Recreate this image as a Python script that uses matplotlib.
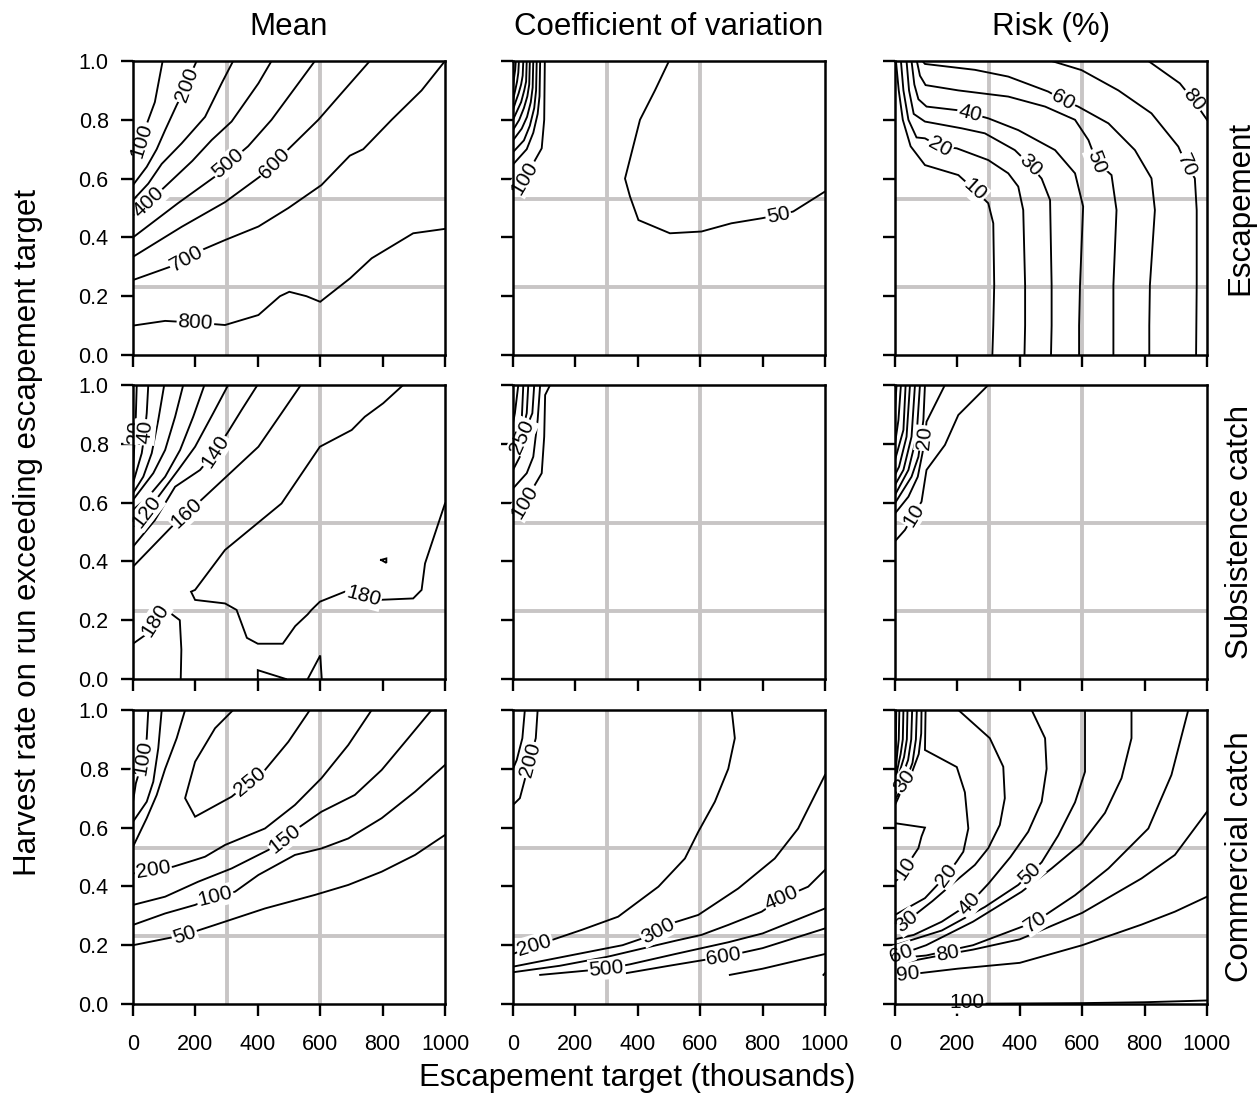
import numpy as np
import matplotlib
matplotlib.use("Agg")
import matplotlib.pyplot as plt

plt.rcParams['font.family'] = ['Liberation Sans', 'DejaVu Sans']

# ---------------- data (contour lines) ----------------
COL_TITLES = ["Mean", "Coefficient of variation", "Risk (%)"]
ROW_TITLES = ["Escapement", "Subsistence catch", "Commercial catch"]
X_TICKS = [0, 200, 400, 600, 800, 1000]
Y_TICKS = [0.0, 0.2, 0.4, 0.6, 0.8, 1.0]
REF_X = [300, 600]
REF_Y = [0.23, 0.53]

# Mean - Escapement
MEAN_ESC_LEVELS = [100, 200, 300, 400, 500, 600, 700, 800]
MEAN_ESC_X = [
    [95, 70, 47, 28, 0],
    [204, 185, 172, 140, 103, 76, 44, 0],
    [321, 284, 231, 156, 92, 49, 0],
    [444, 402, 316, 252, 190, 103, 50, 0],
    [583, 444, 369, 305, 263, 145, 0],
    [759, 668, 594, 498, 453, 407, 295, 156, 0],
    [1000, 925, 829, 738, 695, 604, 498, 402, 295, 220, 172, 119, 0],
    [0, 103, 200, 295, 402, 471, 501, 556, 600, 696, 765, 898, 1000],
]
MEAN_ESC_Y = [
    [1.0, 0.86, 0.794, 0.73, 0.68],
    [1.0, 0.955, 0.918, 0.85, 0.765, 0.70, 0.64, 0.578],
    [1.0, 0.924, 0.81, 0.72, 0.65, 0.583, 0.527],
    [1.0, 0.924, 0.794, 0.731, 0.66, 0.573, 0.52, 0.475],
    [1.0, 0.80, 0.71, 0.652, 0.607, 0.517, 0.40],
    [1.0, 0.89, 0.80, 0.70, 0.652, 0.607, 0.52, 0.436, 0.334],
    [1.0, 0.90, 0.80, 0.70, 0.678, 0.578, 0.50, 0.437, 0.391, 0.357, 0.329, 0.30, 0.255],
    [0.10, 0.116, 0.11, 0.102, 0.136, 0.20, 0.215, 0.20, 0.181, 0.261, 0.329, 0.414, 0.429],
]
MEAN_ESC_LAB = [(28, 0.73), (172, 0.918), None, (50, 0.52), (305, 0.652),
                (453, 0.652), (172, 0.329), (200, 0.11)]

# CV - Escapement
CV_ESC_LEVELS = [100, 150, 200, 250, 300, 350, 400, 450, 500, 50]
CV_ESC_X = [
    [102, 100, 92, 65, 38, 0],
    [87, 85, 79, 65, 44, 0],
    [76, 74, 68, 54, 35, 0],
    [65, 63, 57, 45, 28, 0],
    [54, 52, 46, 35, 20, 0],
    [44, 42, 36, 26, 13, 0],
    [33, 31, 26, 18, 8, 0],
    [19, 17, 13, 7, 0],
    [9, 7, 3, 0],
    [500, 455, 407, 359, 375, 402, 503, 604, 700, 797, 850, 898, 1000],
]
CV_ESC_Y = [
    [1.0, 0.80, 0.703, 0.652, 0.603, 0.55],
    [1.0, 0.88, 0.82, 0.756, 0.70, 0.648],
    [1.0, 0.90, 0.84, 0.78, 0.73, 0.69],
    [1.0, 0.91, 0.86, 0.81, 0.77, 0.73],
    [1.0, 0.92, 0.88, 0.84, 0.80, 0.765],
    [1.0, 0.93, 0.90, 0.86, 0.83, 0.80],
    [1.0, 0.95, 0.92, 0.89, 0.86, 0.834],
    [1.0, 0.96, 0.93, 0.90, 0.867],
    [1.0, 0.97, 0.94, 0.913],
    [1.0, 0.90, 0.80, 0.60, 0.539, 0.459, 0.414, 0.42, 0.448, 0.465, 0.476, 0.488, 0.556],
]
CV_ESC_LAB = [(38, 0.603), None, None, None, None, None, None, None, None, (850, 0.476)]

# Risk - Escapement
RISK_ESC_LEVELS = [10, 20, 30, 40, 50, 60, 70, 80]
RISK_ESC_X = [
    [3, 12, 25, 50, 96, 203, 256, 299, 315, 318, 315, 312],
    [19, 27, 43, 69, 96, 144, 198, 299, 363, 395, 411, 417, 417, 415],
    [37, 45, 60, 96, 214, 288, 384, 433, 470, 497, 502, 502, 500],
    [53, 62, 75, 101, 198, 240, 299, 395, 513, 577, 603, 593, 590, 590],
    [70, 80, 98, 203, 363, 481, 577, 620, 646, 694, 710, 700, 700, 700],
    [88, 96, 256, 363, 491, 539, 587, 684, 769, 822, 833, 817, 815, 815],
    [502, 598, 716, 822, 908, 934, 961, 967, 967, 965],
    [812, 913, 956, 1000],
]
RISK_ESC_Y = [
    [1.0, 0.90, 0.80, 0.71, 0.646, 0.612, 0.561, 0.516, 0.448, 0.238, 0.10, 0.0],
    [1.0, 0.90, 0.80, 0.74, 0.737, 0.709, 0.703, 0.663, 0.618, 0.573, 0.493, 0.238, 0.10, 0.0],
    [1.0, 0.90, 0.82, 0.794, 0.771, 0.754, 0.697, 0.646, 0.60, 0.527, 0.238, 0.10, 0.0],
    [1.0, 0.92, 0.87, 0.845, 0.833, 0.822, 0.805, 0.765, 0.697, 0.618, 0.505, 0.238, 0.10, 0.0],
    [1.0, 0.95, 0.918, 0.90, 0.879, 0.845, 0.80, 0.731, 0.658, 0.612, 0.493, 0.238, 0.10, 0.0],
    [1.0, 0.99, 0.97, 0.947, 0.896, 0.867, 0.845, 0.788, 0.697, 0.601, 0.493, 0.238, 0.10, 0.0],
    [1.0, 0.969, 0.90, 0.822, 0.709, 0.646, 0.601, 0.493, 0.238, 0.0],
    [1.0, 0.924, 0.867, 0.80],
]
RISK_ESC_LAB = [(256, 0.561), (144, 0.709), (433, 0.646), (240, 0.822), (646, 0.658),
                (539, 0.867), (934, 0.646), (956, 0.867)]

# Mean - Subsistence
MEAN_SUB_LEVELS = [20, 40, 60, 80, 100, 120, 140, 160, 180, 180, 180, 180, 180]
MEAN_SUB_X = [
    [12, 9, 6, 4, 0],
    [49, 44, 38, 28, 0],
    [100, 81, 60, 33, 0],
    [161, 135, 103, 65, 0],
    [229, 193, 151, 103, 49, 0],
    [305, 257, 199, 145, 81, 44, 0],
    [399, 348, 305, 263, 215, 135, 70, 0],
    [538, 476, 402, 311, 225, 172, 124, 0],
    [866, 802, 743, 701, 599, 476, 295, 199, 186, 199, 295, 332, 365, 400, 480, 520, 560,
     572, 599, 679, 738, 786, 898, 925, 936, 968, 1000],
    [795, 812, 812, 795],
    [0, 40, 70, 100, 150, 155, 153],
    [400, 400, 460, 490],
    [560, 600, 605],
]
MEAN_SUB_Y = [
    [1.0, 0.893, 0.84, 0.79, 0.711],
    [1.0, 0.904, 0.84, 0.768, 0.666],
    [1.0, 0.881, 0.768, 0.688, 0.632],
    [1.0, 0.892, 0.779, 0.70, 0.609],
    [1.0, 0.892, 0.779, 0.688, 0.62, 0.575],
    [1.0, 0.904, 0.79, 0.711, 0.62, 0.569, 0.518],
    [1.0, 0.915, 0.841, 0.773, 0.711, 0.654, 0.54, 0.45],
    [1.0, 0.904, 0.79, 0.70, 0.615, 0.563, 0.518, 0.382],
    [1.0, 0.938, 0.892, 0.847, 0.79, 0.597, 0.439, 0.303, 0.297, 0.269, 0.257, 0.235, 0.14,
     0.12, 0.12, 0.18, 0.22, 0.235, 0.263, 0.297, 0.28, 0.269, 0.274, 0.303, 0.393, 0.495, 0.597],
    [0.405, 0.41, 0.395, 0.405],
    [0.12, 0.15, 0.20, 0.24, 0.20, 0.10, 0.0],
    [0.0, 0.03, 0.01, 0.0],
    [0.0, 0.08, 0.0],
]
MEAN_SUB_LAB = [(6, 0.84), (38, 0.84), None, None, None, (44, 0.569), (263, 0.773),
                (172, 0.563), (738, 0.28), None, (70, 0.20), None, None]

# CV - Subsistence
CV_SUB_LEVELS = [100, 150, 250, 300, 350, 400]
CV_SUB_X = [
    [119, 103, 100, 92, 70, 38, 0],
    [87, 79, 65, 44, 0],
    [68, 62, 45, 30, 22, 0],
    [49, 44, 25, 0],
    [33, 28, 12, 0],
    [17, 6, 0],
]
CV_SUB_Y = [
    [1.0, 0.966, 0.824, 0.70, 0.66, 0.603, 0.558],
    [1.0, 0.881, 0.756, 0.70, 0.648],
    [1.0, 0.904, 0.86, 0.824, 0.756, 0.711],
    [1.0, 0.904, 0.82, 0.768],
    [1.0, 0.881, 0.84, 0.814],
    [1.0, 0.904, 0.87],
]
CV_SUB_LAB = [(38, 0.603), None, (30, 0.824), None, None, None]

# Risk - Subsistence
RISK_SUB_LEVELS = [10, 20, 30, 40, 50, 60, 70, 80, 90]
RISK_SUB_X = [
    [299, 203, 160, 101, 85, 59, 32, 2, 0],
    [160, 101, 96, 88, 73, 43, 0],
    [96, 91, 75, 53, 0],
    [80, 69, 43, 0],
    [64, 53, 27, 0],
    [48, 37, 13, 0],
    [34, 27, 0],
    [19, 11, 0],
    [5, 0],
]
RISK_SUB_Y = [
    [1.0, 0.898, 0.796, 0.711, 0.603, 0.558, 0.507, 0.471, 0.468],
    [1.0, 0.875, 0.819, 0.768, 0.688, 0.62, 0.563],
    [1.0, 0.881, 0.756, 0.688, 0.598],
    [1.0, 0.824, 0.711, 0.626],
    [1.0, 0.824, 0.711, 0.66],
    [1.0, 0.824, 0.722, 0.694],
    [1.0, 0.847, 0.745],
    [1.0, 0.881, 0.80],
    [1.0, 0.915],
]
RISK_SUB_LAB = [(59, 0.558), (96, 0.819), None, None, None, None, None, None, None]

# Mean - Commercial
MEAN_COM_LEVELS = [100, 150, 200, 250, 200, 150, 100, 50]
MEAN_COM_X = [
    [49, 44, 33, 9, 0],
    [92, 81, 65, 44, 0],
    [167, 140, 103, 76, 44, 0],
    [321, 263, 199, 167, 199, 316, 375, 423, 498, 567],
    [765, 690, 604, 519, 423, 295, 231, 199, 129, 65, 0],
    [957, 882, 797, 711, 604, 535, 487, 434, 316, 209, 103, 0],
    [1000, 904, 797, 690, 604, 519, 402, 327, 263, 199, 103, 0],
    [1000, 904, 797, 690, 583, 423, 263, 165, 0],
]
MEAN_COM_Y = [
    [1.0, 0.904, 0.836, 0.75, 0.688],
    [1.0, 0.87, 0.756, 0.688, 0.62],
    [1.0, 0.904, 0.80, 0.711, 0.632, 0.535],
    [1.0, 0.938, 0.824, 0.70, 0.637, 0.705, 0.756, 0.796, 0.892, 1.0],
    [1.0, 0.881, 0.768, 0.677, 0.597, 0.541, 0.501, 0.49, 0.467, 0.456, 0.444],
    [1.0, 0.904, 0.796, 0.711, 0.654, 0.603, 0.563, 0.524, 0.461, 0.416, 0.365, 0.337],
    [0.813, 0.722, 0.632, 0.563, 0.529, 0.507, 0.439, 0.382, 0.365, 0.337, 0.308, 0.269],
    [0.575, 0.507, 0.45, 0.405, 0.371, 0.325, 0.269, 0.235, 0.20],
]
MEAN_COM_LAB = [(33, 0.836), None, None, (375, 0.756), (65, 0.456), (487, 0.563),
                (263, 0.365), (165, 0.235)]

# CV - Commercial
CV_COM_LEVELS = [250, 200, 200, 300, 400, 500, 600, 700, 800]
CV_COM_X = [
    [38, 30, 12, 0],
    [79, 73, 54, 36, 22, 0],
    [701, 711, 690, 647, 594, 551, 466, 337, 220, 131, 69, 0],
    [1000, 914, 839, 722, 594, 510, 465, 420, 351, 0],
    [1000, 946, 861, 797, 690, 604, 520, 420, 300, 150, 0],
    [87, 200, 300, 375, 520, 690, 800, 1000],
    [330, 500, 676, 800, 1000],
    [695, 800, 1000],
    [995, 1000],
]
CV_COM_Y = [
    [1.0, 0.904, 0.83, 0.80],
    [1.0, 0.904, 0.83, 0.756, 0.70, 0.677],
    [1.0, 0.904, 0.80, 0.688, 0.586, 0.495, 0.399, 0.297, 0.252, 0.22, 0.20, 0.17],
    [0.779, 0.597, 0.495, 0.393, 0.303, 0.275, 0.25, 0.225, 0.20, 0.127],
    [0.456, 0.399, 0.36, 0.314, 0.269, 0.235, 0.215, 0.19, 0.16, 0.13, 0.108],
    [0.099, 0.11, 0.12, 0.135, 0.17, 0.21, 0.24, 0.325],
    [0.099, 0.13, 0.161, 0.19, 0.257],
    [0.099, 0.12, 0.17],
    [0.099, 0.105],
]
CV_COM_LAB = [None, (54, 0.83), (69, 0.20), (465, 0.25), (861, 0.36), (300, 0.12),
              (676, 0.161), None, None]

# Risk - Commercial
RISK_COM_LEVELS = [90, 80, 70, 60, 50, 40, 30, 10, 20, 30, 40, 50, 60, 70, 80, 90, 100]
RISK_COM_X = [
    [4, 3, 0],
    [14, 12, 7, 0],
    [27, 25, 18, 8, 0],
    [40, 38, 29, 15, 0],
    [55, 52, 42, 25, 0],
    [70, 67, 56, 35, 0],
    [85, 84, 76, 55, 32, 10, 0],
    [0, 96, 85, 75, 50, 32, 15, 0],
    [98, 96, 198, 224, 235, 219, 198, 166, 96, 0],
    [203, 304, 347, 352, 336, 299, 256, 192, 120, 60, 37, 0],
    [438, 481, 486, 470, 427, 370, 300, 240, 150, 60, 0],
    [609, 609, 577, 523, 470, 433, 395, 288, 150, 0],
    [758, 758, 726, 673, 598, 502, 406, 250, 100, 20, 0],
    [940, 886, 812, 684, 577, 450, 250, 100, 0],
    [1000, 897, 790, 600, 400, 250, 170, 60, 0],
    [1000, 897, 790, 600, 400, 200, 40, 0],
    [260, 600, 800, 1000],
]
RISK_COM_Y = [
    [1.0, 0.9, 0.785],
    [1.0, 0.9, 0.85, 0.767],
    [1.0, 0.9, 0.85, 0.80, 0.75],
    [1.0, 0.9, 0.84, 0.79, 0.733],
    [1.0, 0.9, 0.83, 0.78, 0.71],
    [1.0, 0.9, 0.82, 0.76, 0.694],
    [1.0, 0.92, 0.85, 0.79, 0.756, 0.70, 0.677],
    [0.615, 0.60, 0.57, 0.53, 0.49, 0.461, 0.43, 0.416],
    [1.0, 0.864, 0.806, 0.72, 0.597, 0.518, 0.485, 0.439, 0.36, 0.303],
    [1.0, 0.904, 0.807, 0.70, 0.609, 0.53, 0.473, 0.416, 0.35, 0.30, 0.28, 0.257],
    [1.0, 0.904, 0.80, 0.688, 0.586, 0.50, 0.41, 0.342, 0.28, 0.235, 0.22],
    [1.0, 0.79, 0.686, 0.573, 0.482, 0.444, 0.405, 0.33, 0.25, 0.20],
    [1.0, 0.904, 0.768, 0.65, 0.546, 0.461, 0.382, 0.28, 0.20, 0.17, 0.16],
    [1.0, 0.779, 0.597, 0.461, 0.37, 0.28, 0.20, 0.165, 0.155],
    [0.654, 0.507, 0.427, 0.31, 0.22, 0.185, 0.17, 0.148, 0.135],
    [0.365, 0.314, 0.27, 0.20, 0.14, 0.12, 0.10, 0.09],
    [0.001, 0.003, 0.006, 0.012],
]
RISK_COM_LAB = [None, None, None, None, None, None, (32, 0.756), (32, 0.461), (166, 0.439),
                (37, 0.28), (240, 0.342), (433, 0.444), (20, 0.17), (450, 0.28), (170, 0.17),
                (40, 0.10), (230, 0.004)]

PANELS = [
    [(MEAN_ESC_LEVELS, MEAN_ESC_X, MEAN_ESC_Y, MEAN_ESC_LAB),
     (CV_ESC_LEVELS, CV_ESC_X, CV_ESC_Y, CV_ESC_LAB),
     (RISK_ESC_LEVELS, RISK_ESC_X, RISK_ESC_Y, RISK_ESC_LAB)],
    [(MEAN_SUB_LEVELS, MEAN_SUB_X, MEAN_SUB_Y, MEAN_SUB_LAB),
     (CV_SUB_LEVELS, CV_SUB_X, CV_SUB_Y, CV_SUB_LAB),
     (RISK_SUB_LEVELS, RISK_SUB_X, RISK_SUB_Y, RISK_SUB_LAB)],
    [(MEAN_COM_LEVELS, MEAN_COM_X, MEAN_COM_Y, MEAN_COM_LAB),
     (CV_COM_LEVELS, CV_COM_X, CV_COM_Y, CV_COM_LAB),
     (RISK_COM_LEVELS, RISK_COM_X, RISK_COM_Y, RISK_COM_LAB)],
]

# ---------------- layout / style ----------------
W, H = 1258, 1095
COL_LEFT = [133, 513, 895]
ROW_TOP = [61, 385, 710]
PW, PH = 312, 294
GRAY = '#c8c5c5'
TICK_FS = 15.5
LAB_FS = 15
BIG_FS = 22.5

fig = plt.figure(figsize=(W / 100, H / 100), dpi=100)


def label_angle(ax, xs, ys, p):
    pts = ax.transData.transform(np.column_stack([xs, ys]))
    q = ax.transData.transform([p])[0]
    best, ang = None, 0.0
    for i in range(len(pts) - 1):
        a, b = pts[i], pts[i + 1]
        d = b - a
        L2 = float(d @ d)
        if L2 == 0:
            continue
        t = np.clip(((q - a) @ d) / L2, 0, 1)
        dist = np.hypot(*(a + t * d - q))
        if best is None or dist < best:
            best = dist
            ang = np.degrees(np.arctan2(d[1], d[0]))
    if ang > 90:
        ang -= 180
    if ang <= -90:
        ang += 180
    return ang


for r in range(3):
    for c in range(3):
        left = COL_LEFT[c] / W
        bottom = 1 - (ROW_TOP[r] + PH) / H
        ax = fig.add_axes([left, bottom, PW / W, PH / H])
        ax.set_xlim(0, 1000)
        ax.set_ylim(0, 1)
        for xv in REF_X:
            ax.axvline(xv, color=GRAY, lw=2.8, zorder=1)
        for yv in REF_Y:
            ax.axhline(yv, color=GRAY, lw=2.8, zorder=1)
        levels, xs, ys, labs = PANELS[r][c]
        for lev, x, y, lab in zip(levels, xs, ys, labs):
            ax.plot(x, y, color='black', lw=1.35, zorder=3, solid_joinstyle='miter')
            if lab is not None:
                ang = label_angle(ax, x, y, lab)
                ax.text(lab[0], lab[1], str(lev), rotation=ang, rotation_mode='anchor',
                        ha='center', va='center', fontsize=LAB_FS, zorder=4, clip_on=False,
                        bbox=dict(boxstyle='square,pad=0.06', fc='white', ec='none'))
        ax.set_xticks(X_TICKS)
        ax.set_yticks(Y_TICKS)
        ax.tick_params(direction='out', length=8.5, width=1.7, labelsize=TICK_FS)
        ax.tick_params(axis='x', pad=13)
        ax.tick_params(axis='y', pad=9)
        if r == 2:
            ax.set_xticklabels([str(v) for v in X_TICKS])
        else:
            ax.set_xticklabels([])
        if c == 0:
            ax.set_yticklabels(["%.1f" % v for v in Y_TICKS])
        else:
            ax.set_yticklabels([])
        for s in ax.spines.values():
            s.set_linewidth(1.8)
            s.set_zorder(5)

col_cx = [(cl + PW / 2) / W for cl in COL_LEFT]
for c in range(3):
    fig.text(col_cx[c], 1 - 27 / H, COL_TITLES[c], ha='center', va='center', fontsize=BIG_FS)
for r in range(3):
    fig.text(1240 / W, 1 - (ROW_TOP[r] + PH / 2) / H, ROW_TITLES[r], rotation=90,
             ha='center', va='center', fontsize=BIG_FS)
fig.text(28 / W, 1 - 532 / H, "Harvest rate on run exceeding escapement target",
         rotation=90, ha='center', va='center', fontsize=BIG_FS)
fig.text(637 / W, 1 - 1078 / H, "Escapement target (thousands)", ha='center',
         va='center', fontsize=BIG_FS)

fig.savefig("out.png", dpi=100)
